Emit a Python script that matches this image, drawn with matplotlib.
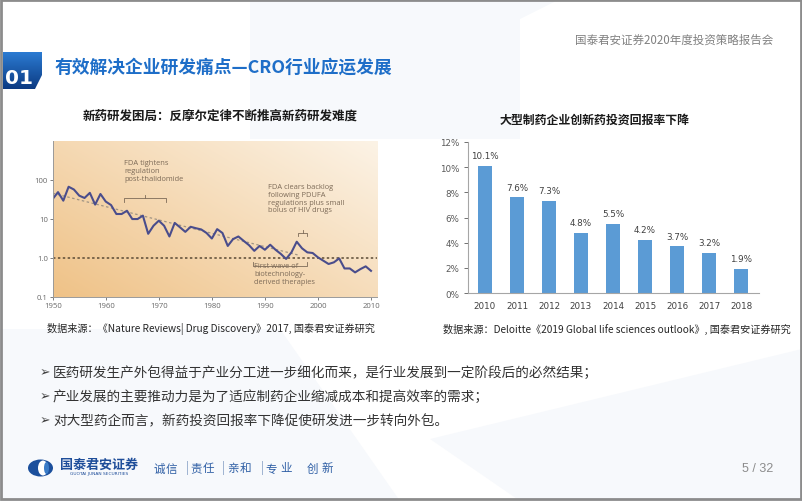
import numpy as np
import matplotlib.pyplot as plt
from matplotlib.colors import LinearSegmentedColormap, to_rgb
from matplotlib.patches import Polygon, Rectangle, Ellipse

plt.rcParams['font.family'] = ['Noto Sans CJK SC', 'DejaVu Sans']

W, H = 802, 502

# left chart: new drugs per billion US$ of R&D (log scale)
years_l = list(range(1950, 2011))
drugs_per_bn = [32, 48, 29, 66, 56, 39, 34, 46, 23, 43,
                27.5, 22.4, 13.2, 13.2, 16, 9.8, 9.8, 12, 4.1, 6.6,
                8.9, 6.6, 3.5, 7.8, 6.0, 4.6, 6.2, 5.7, 5.3, 4.3,
                3.1, 5.4, 4.3, 2.0, 3.0, 3.5, 2.7, 2.1, 1.5, 2.0,
                1.6, 2.15, 1.6, 1.25, 0.93, 1.37, 2.57, 1.74, 1.37, 1.32,
                1.02, 0.84, 0.69, 0.76, 0.96, 0.53, 0.53, 0.42, 0.51, 0.60,
                0.46]
trend_years = [1950, 1996.5]
trend_vals = [45, 1.15]
yticks_l = [0.1, 1, 10, 100]
ylabels_l = ['0.1', '1.0', '10', '100']
xticks_l = [1950, 1960, 1970, 1980, 1990, 2000, 2010]

# right chart: ROI of big pharma innovation
years_r = ['2010', '2011', '2012', '2013', '2014', '2015', '2016', '2017', '2018']
roi_pct = [10.1, 7.6, 7.3, 4.8, 5.5, 4.2, 3.7, 3.2, 1.9]
yticks_r = [0, 2, 4, 6, 8, 10, 12]

title = '有效解决企业研发痛点—CRO行业应运发展'
header = '国泰君安证券2020年度投资策略报告会'
title_l = '新药研发困局：反摩尔定律不断推高新药研发难度'
title_r = '大型制药企业创新药投资回报率下降'
source_l = '数据来源：《Nature Reviews| Drug Discovery》2017, 国泰君安证券研究'
source_r = '数据来源：Deloitte《2019 Global life sciences outlook》, 国泰君安证券研究'
bullets = ['医药研发生产外包得益于产业分工进一步细化而来，是行业发展到一定阶段后的必然结果；',
           '产业发展的主要推动力是为了适应制药企业缩减成本和提高效率的需求；',
           '对大型药企而言，新药投资回报率下降促使研发进一步转向外包。']
slogan = ['诚', '信', '|', '责', '任', '|', '亲', '和', '|', '专', '业', '创', '新']


def box(l, t, r, b):
    return [l / W, 1 - b / H, (r - l) / W, (b - t) / H]


fig = plt.figure(figsize=(W / 100, H / 100), dpi=100)
fig.patch.set_facecolor('white')

back = fig.add_axes([0, 0, 1, 1], zorder=0)
back.axis('off')

# faint background shapes of the slide
for pts in [[(250, 0), (560, 0), (520, 20), (520, 140), (250, 140)],
            [(0, 330), (280, 330), (400, 502), (0, 502)],
            [(430, 440), (802, 350), (802, 502), (520, 502)]]:
    back.add_patch(Polygon(pts, closed=True, facecolor='#f7f9fc', edgecolor='none'))

# warm gradient behind the left chart
gx, gy = np.meshgrid(np.linspace(0, 1, 200), np.linspace(0, 1, 100))
t = 0.55 * (1 - gx) + 0.45 * (1 - gy)
c0 = np.array(to_rgb('#fcf3e6'))
c1 = np.array(to_rgb('#efc287'))
img = c0 + (c1 - c0) * t[..., None]
back.imshow(img, extent=(52.7, 377, 297.7, 141.7), origin='lower', aspect='auto', zorder=1)
back.set_xlim(0, W)
back.set_ylim(H, 0)

# ---- left chart
ax_l = fig.add_axes(box(52.7, 141.7, 377, 297.7), zorder=2)
ax_l.set_facecolor('none')
ax_l.set_yscale('log')
ax_l.plot(trend_years, trend_vals, ls=(0, (2, 2)), color='#a09484', lw=0.9)
ax_l.axhline(1, ls=(0, (1.6, 1.6)), color='#5a4a35', lw=1.1)
ax_l.plot(years_l, drugs_per_bn, color='#4a4d8c', lw=1.5, solid_joinstyle='round')
ax_l.set_xlim(1950, 1950 + (377 - 52.7) / 5.305)
ax_l.set_ylim(0.1, 1000)
ax_l.yaxis.set_minor_locator(plt.NullLocator())
ax_l.set_yticks(yticks_l)
ax_l.set_yticklabels(ylabels_l)
ax_l.set_xticks(xticks_l)
ax_l.tick_params(labelsize=5.6, colors='#6a6a6a', length=2, width=0.6, pad=1.5)
for lab in ax_l.get_xticklabels() + ax_l.get_yticklabels():
    lab.set_family('Open Sans')
for s in ['top', 'right']:
    ax_l.spines[s].set_visible(False)
for s in ['left', 'bottom']:
    ax_l.spines[s].set_color('#9a9a9a')
    ax_l.spines[s].set_linewidth(0.7)

# ---- right chart
ax_r = fig.add_axes(box(468, 143, 759, 294), zorder=2)
ax_r.set_facecolor('none')
xpos = np.arange(len(years_r))
ax_r.bar(xpos, roi_pct, width=0.43, color='#5b9bd5')
for x, v in zip(xpos, roi_pct):
    ax_r.text(x, v + 0.45, f'{v}%', ha='center', va='bottom', fontsize=6.3,
              color='#404040', family='DejaVu Sans')
ax_r.set_xlim(-0.53, 8.56)
ax_r.set_ylim(0, 12)
ax_r.set_yticks(yticks_r)
ax_r.set_yticklabels([f'{v}%' for v in yticks_r])
ax_r.set_xticks(xpos)
ax_r.set_xticklabels(years_r)
ax_r.tick_params(axis='y', labelsize=6.3, colors='#595959', length=3, width=0.6, pad=3)
ax_r.tick_params(axis='x', labelsize=6.3, colors='#404040', length=0, pad=6)
for lab in ax_r.get_xticklabels() + ax_r.get_yticklabels():
    lab.set_family('DejaVu Sans')
for s in ['top', 'right']:
    ax_r.spines[s].set_visible(False)
for s in ['left', 'bottom']:
    ax_r.spines[s].set_color('#a6a6a6')
    ax_r.spines[s].set_linewidth(0.8)

# ---- overlay: texts and slide decoration
front = fig.add_axes([0, 0, 1, 1], zorder=10)
front.set_facecolor('none')
front.axis('off')

# slide frame
front.add_patch(Rectangle((1, 1), 799.5, 499, fill=False, edgecolor='#8c8c8c', lw=2))

# "01" badge
badge = Polygon([(3, 53), (42, 53), (42, 76), (35, 90), (3, 90)], closed=True,
                facecolor='none', edgecolor='none')
front.add_patch(badge)
bimg = front.imshow(np.linspace(0, 1, 64).reshape(-1, 1),
                    cmap=LinearSegmentedColormap.from_list('b', ['#2b7bd2', '#0c3a82']),
                    extent=(3, 42, 90, 53), origin='upper', aspect='auto', zorder=2)
bimg.set_clip_path(badge)
front.text(18.5, 78, '01', color='white', fontsize=14.5, fontweight='bold',
           ha='center', va='center', family='DejaVu Sans')
front.text(55, 68, title, color='#1e6ec8', fontsize=12.8, fontweight='bold',
           ha='left', va='center')
front.text(773, 40, header, color='#808080', fontsize=8.3, ha='right', va='center')

# chart titles and sources
front.text(220, 116, title_l, fontsize=9, fontweight='bold', ha='center', va='center', color='#1a1a1a')
front.text(595, 120, title_r, fontsize=8.6, fontweight='bold', ha='center', va='center', color='#1a1a1a')
front.text(211, 329, source_l, fontsize=7.3, ha='center', va='center', color='#262626')
front.text(617, 329, source_r, fontsize=7.3, ha='center', va='center', color='#262626')

# annotations inside the left chart
ann_c = '#7d6b58'
front.text(124, 171.7, 'FDA tightens\nregulation\npost-thalidomide', fontsize=5.4, color=ann_c,
           family='Open Sans', ha='left', va='center', linespacing=1.15)
front.plot([124, 124, 166, 166], [203, 199.3, 199.3, 203], color=ann_c, lw=0.6)
front.plot([145, 145], [199.3, 195.5], color=ann_c, lw=0.6)
front.text(268.3, 199.3, 'FDA clears backlog\nfollowing PDUFA\nregulations plus small\nbolus of HIV drugs',
           fontsize=5.4, color=ann_c, family='Open Sans', ha='left', va='center', linespacing=1.15)
front.plot([298, 298, 307, 307], [237, 234, 234, 237], color=ann_c, lw=0.6)
front.plot([302.5, 302.5], [234, 231], color=ann_c, lw=0.6)
front.text(254, 274.5, 'First wave of\nbiotechnology-\nderived therapies', fontsize=5.4, color=ann_c,
           family='Open Sans', ha='left', va='center', linespacing=1.15)
front.plot([253, 253, 307, 307], [263, 266.7, 266.7, 263], color=ann_c, lw=0.6)

# bullets
for i, line in enumerate(bullets):
    y = 373 + 24 * i
    front.text(40, y, '➢', fontsize=9, color='#404040', family='DejaVu Sans', ha='left', va='center')
    front.text(53, y, line, fontsize=9.8, color='#333333', ha='left', va='center')

# footer logo and slogan
front.add_patch(Ellipse((40.5, 469), 25, 17, facecolor='#1b4f9c', edgecolor='none'))
front.add_patch(Ellipse((43, 469), 10, 15, facecolor='white', edgecolor='none'))
front.add_patch(Ellipse((46.5, 469), 5, 12, facecolor='#3a7cc8', edgecolor='none'))
front.text(60, 465, '国泰君安证券', fontsize=9.4, fontweight='bold', color='#1f4e9a', ha='left', va='center')
front.text(99, 474.5, 'GUOTAI JUNAN SECURITIES', fontsize=3.2, color='#1f4e9a', ha='center',
           va='center', family='DejaVu Sans')
slogan_x = [159, 171, 187, 196, 208, 223, 233, 245, 262, 271, 286, 312, 327]
for ch, x in zip(slogan, slogan_x):
    if ch == '|':
        front.plot([x, x], [462, 475], color='#9fb3d1', lw=0.7)
    else:
        front.text(x, 469, ch, fontsize=8.3, color='#2f5fa5', ha='center', va='center')
front.text(758, 469, '5 / 32', fontsize=9, color='#8c8c8c', ha='center', va='center', family='Liberation Sans')

front.set_xlim(0, W)
front.set_ylim(H, 0)

fig.savefig('out.png', dpi=100)
